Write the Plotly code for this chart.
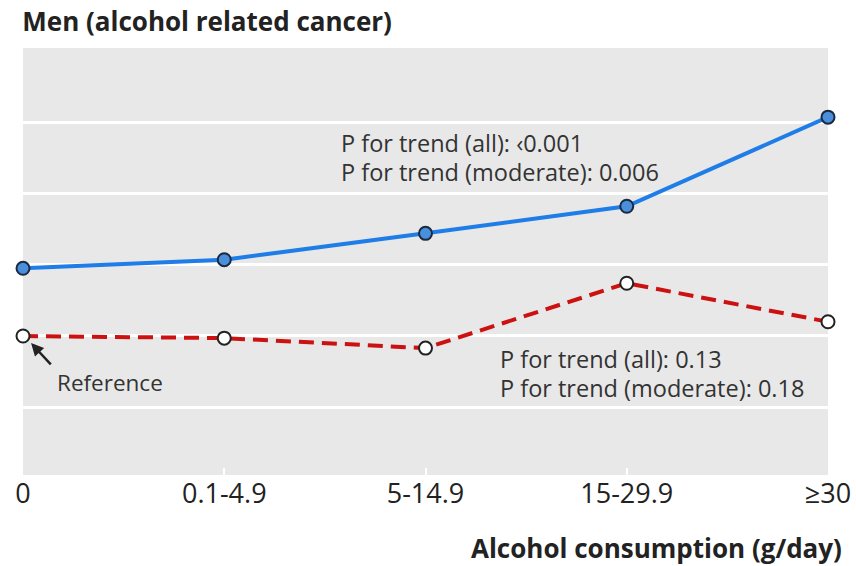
import plotly.graph_objects as go

# Alcohol intake categories (g/day)
categories = ["0", "0.1-4.9", "5-14.9", "15-29.9", "≥30"]
# Relative risk of alcohol related cancer in men
rr_all = [1.095, 1.107, 1.144, 1.182, 1.307]
rr_never_smokers = [1.000, 0.997, 0.983, 1.074, 1.020]
grid_values = [0.9, 1.0, 1.1, 1.2, 1.3]

xpos = list(range(len(categories)))
FONT = "Open Sans"

fig = go.Figure()

# reference line at relative risk 1.0
fig.add_shape(type="line", xref="x", yref="y", x0=0, x1=4, y0=1.0, y1=1.0,
              line=dict(color="#222222", width=1.5), layer="below")

fig.add_trace(go.Scatter(
    x=xpos, y=rr_never_smokers, mode="lines+markers",
    line=dict(color="#cc1111", width=4, dash="15px,8px"),
    marker=dict(size=13, color="white", line=dict(color="#222222", width=2)),
    cliponaxis=False, showlegend=False))

fig.add_trace(go.Scatter(
    x=xpos, y=rr_all, mode="lines+markers",
    line=dict(color="#1e7de6", width=4),
    marker=dict(size=13, color="#4a8fdc", line=dict(color="#1a2a40", width=2)),
    cliponaxis=False, showlegend=False))

txt = dict(family=FONT, size=23.5, color="#333333")
fig.add_annotation(x=1.57, y=1.271, xref="x", yref="y", xanchor="left", yanchor="middle",
                   text="P for trend (all): ‹0.001", showarrow=False, font=txt)
fig.add_annotation(x=1.57, y=1.230, xref="x", yref="y", xanchor="left", yanchor="middle",
                   text="P for trend (moderate): 0.006", showarrow=False, font=txt)
fig.add_annotation(x=2.36, y=0.968, xref="x", yref="y", xanchor="left", yanchor="middle",
                   text="P for trend (all): 0.13", showarrow=False, font=txt)
fig.add_annotation(x=2.36, y=0.927, xref="x", yref="y", xanchor="left", yanchor="middle",
                   text="P for trend (moderate): 0.18", showarrow=False, font=txt)

# label and arrow for the reference category
fig.add_annotation(x=0.16, y=0.935, xref="x", yref="y", xanchor="left", yanchor="middle",
                   text="Reference", showarrow=False,
                   font=dict(family=FONT, size=22.5, color="#333333"))
fig.add_annotation(x=0.04, y=0.990, ax=0.145, ay=0.958, xref="x", yref="y",
                   axref="x", ayref="y", text="", showarrow=True,
                   arrowhead=2, arrowsize=1.0, arrowwidth=2.5, arrowcolor="#222222")

fig.update_layout(
    width=856, height=566,
    margin=dict(l=23, r=28, t=48, b=91),
    paper_bgcolor="white", plot_bgcolor="#e8e8e8",
    title=dict(text="<b>Men (alcohol related cancer)</b>", x=0.026, xanchor="left",
               y=0.962, yanchor="middle",
               font=dict(family=FONT, size=26, color="#222222")),
    xaxis=dict(range=[0, 4], tickvals=xpos, ticktext=categories, showgrid=False,
               zeroline=False, showline=False, ticks="inside", ticklen=7,
               tickcolor="white", tickwidth=2, automargin=False,
               tickfont=dict(family=FONT, size=27, color="#222222"),
               title=None),
    yaxis=dict(range=[0.805, 1.404], tickvals=grid_values, showticklabels=False,
               showgrid=True, gridcolor="white", gridwidth=3, zeroline=False,
               showline=False, automargin=False),
)

fig.add_annotation(x=1.02, y=-0.17, xref="paper", yref="paper", xanchor="right",
                   yanchor="middle", text="<b>Alcohol consumption (g/day)</b>",
                   showarrow=False, font=dict(family=FONT, size=26, color="#222222"))

fig.write_html("out.html")
